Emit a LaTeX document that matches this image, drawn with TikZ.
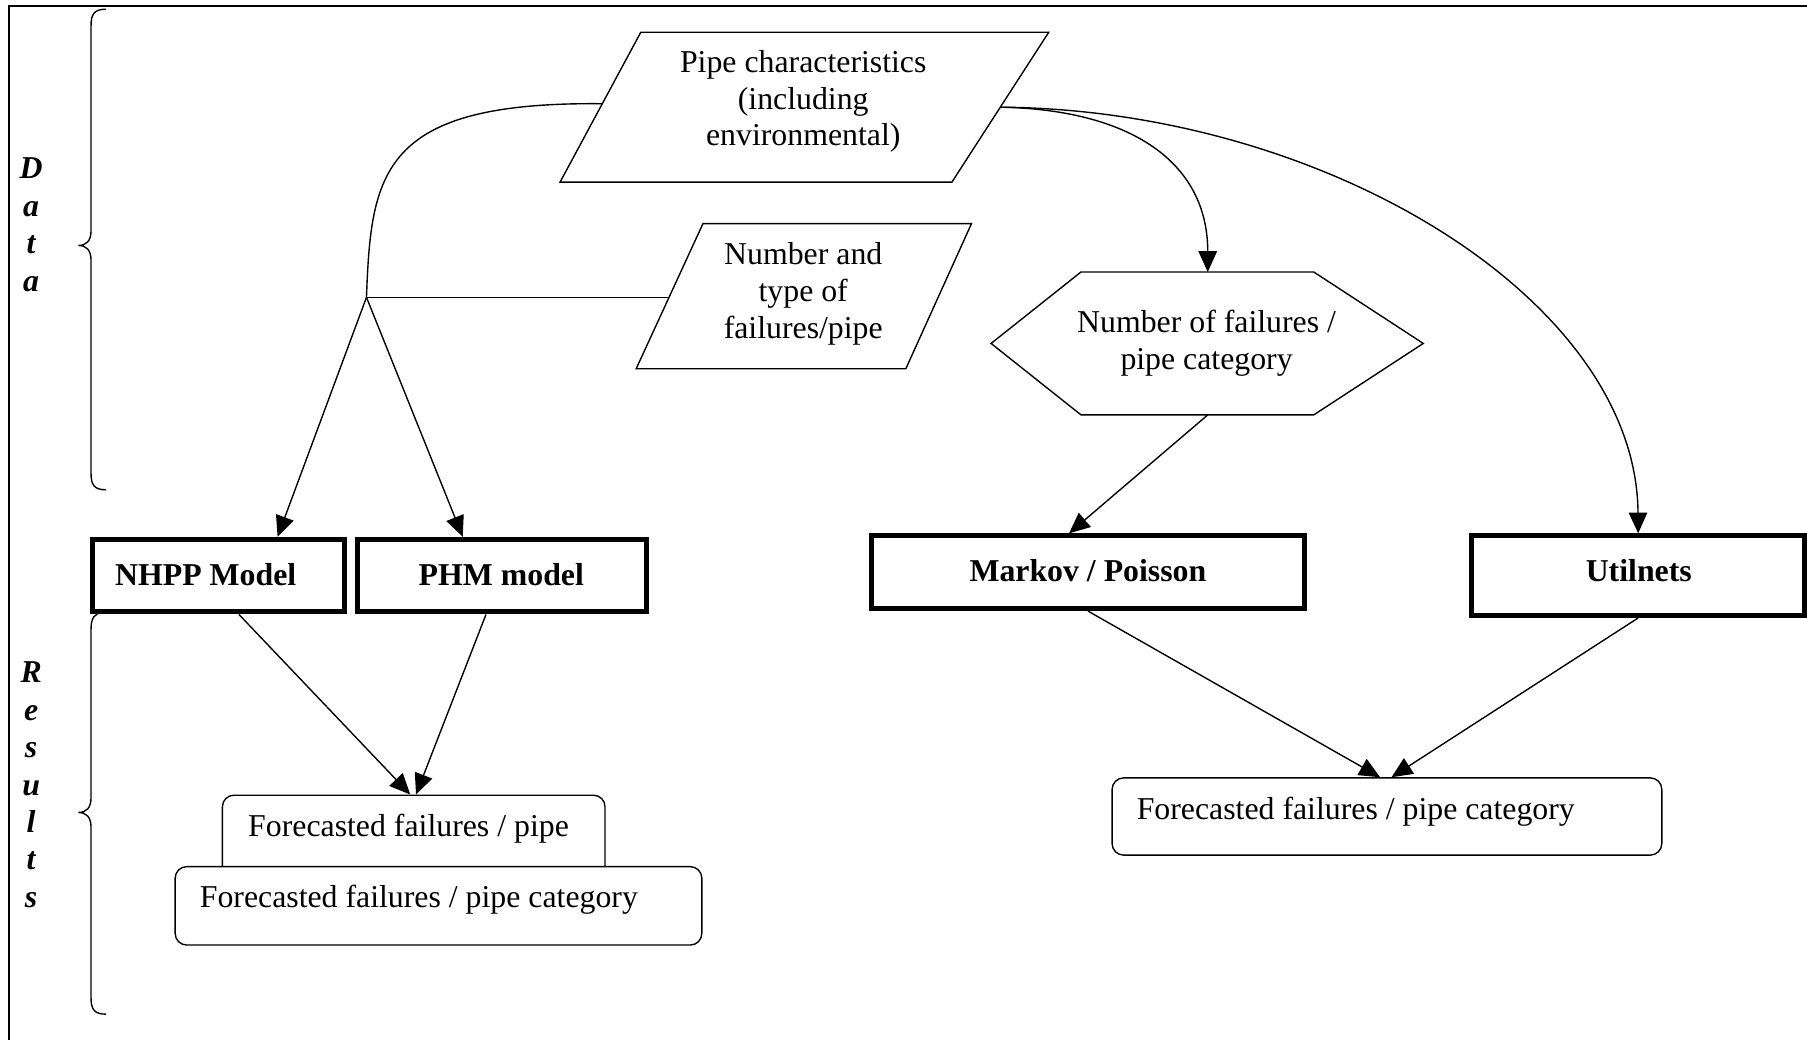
\documentclass[tikz,border=0pt]{standalone}
\usepackage{fontspec}
\setmainfont{Liberation Serif}
\usetikzlibrary{arrows.meta,calc}
\begin{document}
\begin{tikzpicture}[x=0.5pt,y=-0.5pt,
  thin line/.style={line width=0.6pt},
  arr/.style={line width=0.6pt,-{Triangle[length=9pt,width=8pt]}},
  modelbox/.style={draw,line width=2.2pt,inner sep=0pt},
  roundbox/.style={draw,line width=0.6pt,rounded corners=5pt,inner sep=0pt,fill=white},
  txt/.style={font=\fontsize{13.8}{16}\selectfont,align=center,inner sep=0pt},
  btxt/.style={font=\fontsize{13.8}{16}\selectfont\bfseries,inner sep=0pt},
  side/.style={font=\fontsize{13.8}{16.25}\selectfont\bfseries\itshape,align=center,inner sep=0pt},
]
\useasboundingbox (0,0) rectangle (1568,902);
% frame
\draw[line width=0.8pt] (8,902) -- (8,5) -- (1568,5);

% side labels and braces
\node[side] (data) at (27,195) {D\\a\\t\\a};
\node[side] (results) at (27,681) {R\\e\\s\\u\\l\\t\\s};
\draw[thin line] (92,8) .. controls (82,8) and (79,12) .. (79,22) -- (79,200)
  .. controls (79,209) and (75,213) .. (68,213) .. controls (75,213) and (79,217) .. (79,226)
  -- (79,411) .. controls (79,421) and (82,425) .. (92,425);
\draw[thin line] (90,531) .. controls (82,532) and (79,536) .. (79,546) -- (79,692)
  .. controls (79,701) and (75,705) .. (68,705) .. controls (75,705) and (79,709) .. (79,718)
  -- (79,866) .. controls (79,876) and (82,880) .. (92,880);

% Pipe characteristics parallelogram
\draw[thin line] (486,158) -- (556,28) -- (910,28) -- (826,158) -- cycle;
\node[txt] (pc) at (697,88) {Pipe characteristics\\(including\\environmental)};
\coordinate (pcL) at (522.6,90);
\coordinate (pcR) at (868,93);

% Number and type parallelogram
\draw[thin line] (552,320) -- (610,194) -- (843,194) -- (786,320) -- cycle;
\node[txt] (nt) at (697,255) {Number and\\type of\\failures/pipe};
\coordinate (ntL) at (580.5,258);

% Hexagon
\draw[thin line] (860,298) -- (938,236) -- (1140,236) -- (1235,298) -- (1140,360) -- (938,360) -- cycle;
\node[txt] (hex) at (1047,298) {Number of failures /\\pipe category};
\coordinate (hexT) at (1048,236);
\coordinate (hexB) at (1048,360);

% junction
\coordinate (jn) at (318,258);

% model boxes
\node[modelbox,minimum width=109.5pt,minimum height=31.5pt] (nhpp) at (189.5,499.5) {};
\node[btxt] (nhppT) at (178.5,499) {NHPP Model};
\node[modelbox,minimum width=125.5pt,minimum height=31.5pt] (phm) at (435.5,499.5) {};
\node[btxt] (phmT) at (435,499) {PHM model};
\node[modelbox,minimum width=188pt,minimum height=31.5pt] (markov) at (944,496.5) {};
\node[btxt] (markovT) at (944,495) {Markov / Poisson};
\node[modelbox,minimum width=144.5pt,minimum height=34.5pt] (util) at (1421.5,499.5) {};
\node[btxt] (utilT) at (1422,495) {Utilnets};

% result boxes
\node[roundbox,minimum width=166pt,minimum height=37.5pt] (ffp) at (359,727.5) {};
\node[txt,anchor=west] (ffpT) at (215,719) {Forecasted failures / pipe};
\node[roundbox,minimum width=228.5pt,minimum height=34pt] (ffc) at (380.5,786) {};
\node[txt,anchor=west] (ffcT) at (173,781) {Forecasted failures / pipe category};
\node[roundbox,minimum width=238.5pt,minimum height=33.5pt] (ffr) at (1203.5,708.5) {};
\node[txt,anchor=west] (ffrT) at (986,704) {Forecasted failures / pipe category};

% connectors
\draw[thin line] (pcL) .. controls (330,88) and (322,150) .. (jn);
\draw[thin line] (ntL) -- (jn);
\draw[arr] (jn) -- ($(nhpp.north west)!0.73!(nhpp.north east)$);
\draw[arr] (jn) -- ($(phm.north west)!0.367!(phm.north east)$);
\draw[arr] (pcR) .. controls (980,95) and (1048,140) .. (hexT);
\draw[arr] (pcR) .. controls (1150,95) and (1420,260) .. (util.north);
\draw[arr] (hexB) -- ($(markov.north west)!0.457!(markov.north east)$);
\draw[arr] ($(nhpp.south west)!0.58!(nhpp.south east)$) -- ([xshift=-1.5pt]ffp.north);
\draw[arr] ($(phm.south west)!0.446!(phm.south east)$) -- ([xshift=1pt]ffp.north);
\draw[arr] (markov.south) -- ([xshift=-3pt]ffr.north);
\draw[arr] (util.south) -- ([xshift=2pt]ffr.north);
\end{tikzpicture}
\end{document}
